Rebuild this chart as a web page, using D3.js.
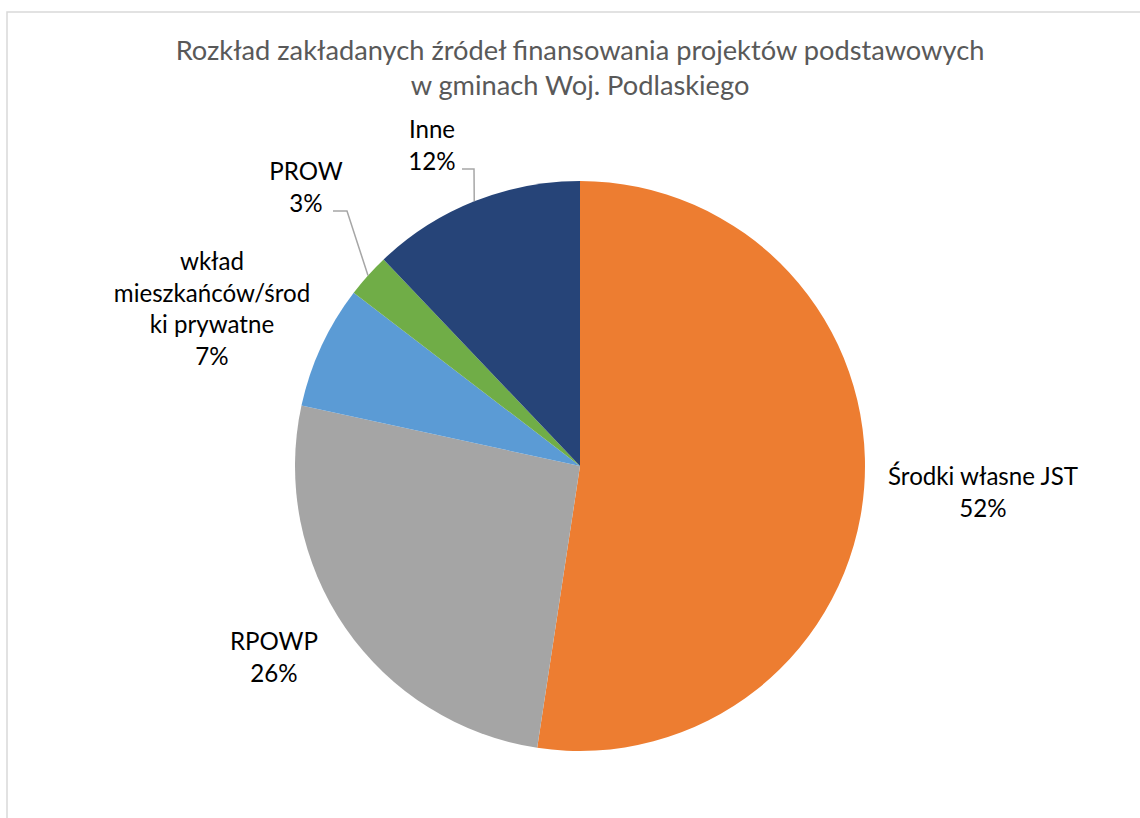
<!DOCTYPE html>
<html><head><meta charset="utf-8">
<script src="https://cdn.jsdelivr.net/npm/d3@7"></script>
<style>body{margin:0;background:#fff}svg{display:block}</style>
</head><body>
<svg id="c" width="1140" height="818"></svg>
<script>
const categories = ["Środki własne JST", "RPOWP", "wkład mieszkańców/środki prywatne", "PROW", "Inne"];
const values = [52.4, 26.0, 7.0, 2.5, 12.1];
const labelLines = [["Środki własne JST"], ["RPOWP"], ["wkład", "mieszkańców/środ", "ki prywatne"], ["PROW"], ["Inne"]];
const colors = ["#ED7D31", "#A5A5A5", "#5B9BD5", "#70AD47", "#264478"];
const titleLines = ["Rozkład zakładanych źródeł finansowania projektów podstawowych", "w gminach Woj. Podlaskiego"];

const svg = d3.select("#c");
const W = 1140, H = 818;
svg.append("rect").attr("x", 7).attr("y", 12).attr("width", W).attr("height", H)
  .attr("fill", "#fff").attr("stroke", "#d9d9d9").attr("stroke-width", 1.5);

const font = "Lato, 'Open Sans', sans-serif";
const t = svg.append("g");
const tBase = [60, 95];
titleLines.forEach((s, i) => {
  t.append("text").attr("x", 580).attr("y", tBase[i]).attr("text-anchor", "middle")
    .attr("font-family", font).attr("font-size", 26).attr("fill", "#595959").text(s);
});
const t0 = t.select("text").node().getComputedTextLength();
t.selectAll("text").attr("font-size", 26 * 809 / t0);

const cx = 580, cy = 466, R = 285;
const pie = d3.pie().sort(null).value(d => d).startAngle(0).endAngle(2 * Math.PI);
const arcs = pie(values);
const arc = d3.arc().innerRadius(0).outerRadius(R);
const g = svg.append("g").attr("transform", `translate(${cx},${cy})`);
g.selectAll("path").data(arcs).join("path").attr("d", arc)
  .attr("fill", (d, i) => colors[i]);

const labelPos = [
  {x: 983, y: 485}, {x: 274, y: 650}, {x: 212, y: 270}, {x: 306, y: 180}, {x: 432, y: 138}
];
const lh = 31.6;
const lg = svg.append("g");
arcs.forEach((a, i) => {
  const lines = labelLines[i].concat([Math.round(values[i]) + "%"]);
  lines.forEach((s, j) => {
    lg.append("text").attr("x", labelPos[i].x).attr("y", labelPos[i].y + j * lh)
      .attr("text-anchor", "middle").attr("font-family", font).attr("font-size", 22)
      .attr("fill", "#000").text(s);
  });
});
const l0 = lg.select("text").node().getComputedTextLength();
lg.selectAll("text").attr("font-size", 22 * 190 / l0);

const leaders = [
  {i: 3, sx: 333, sy: 211, hx: 347},
  {i: 4, sx: 462, sy: 169, hx: 474}
];
leaders.forEach(L => {
  const a = arcs[L.i];
  const m = (a.startAngle + a.endAngle) / 2;
  const px = cx + R * Math.sin(m), py = cy - R * Math.cos(m);
  svg.append("polyline").attr("points", `${L.sx},${L.sy} ${L.hx},${L.sy} ${px},${py}`)
    .attr("fill", "none").attr("stroke", "#a6a6a6").attr("stroke-width", 1.5);
});
</script>
</body></html>
